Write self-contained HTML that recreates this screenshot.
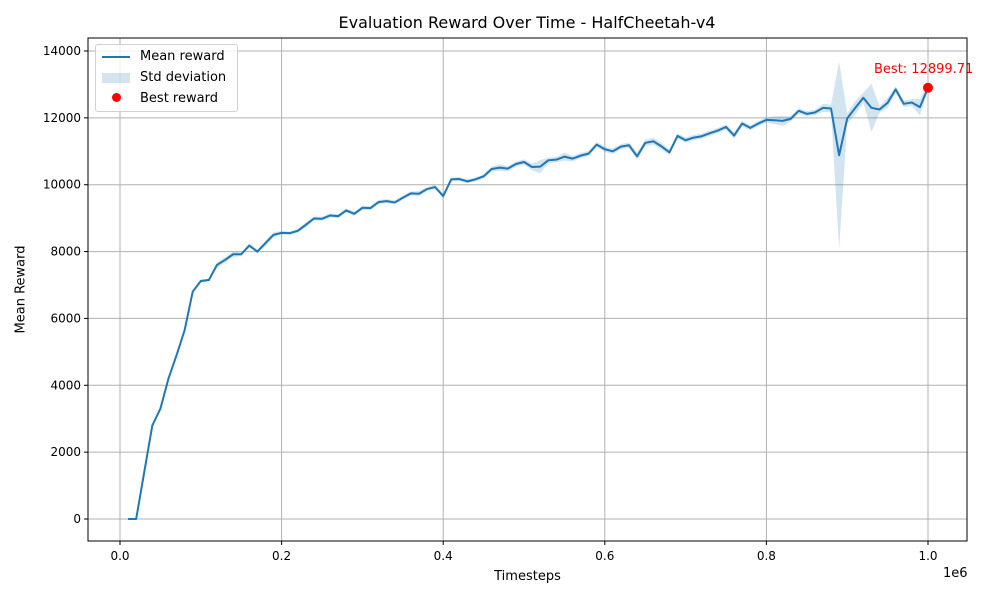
<!DOCTYPE html>
<html><head><meta charset="utf-8"><style>
body{margin:0;background:#fff;font-family:"Liberation Sans","DejaVu Sans",sans-serif}
svg text{font-family:"DejaVu Sans","Liberation Sans",sans-serif}
</style></head><body>
<svg id="c" width="1000" height="600" xmlns="http://www.w3.org/2000/svg">
<rect width="1000" height="600" fill="#fff"/>
<g id="grid"></g><g id="marks"></g><g id="axes"></g>
</svg>
<script>
const timesteps=[];for(let i=1;i<=100;i++)timesteps.push(i*10000);
const meanReward=[0,0,1400,2800,3300,4200,4900,5650,6800,7120,7150,7600,7750,7920,7920,8180,8000,8250,8500,8560,8550,8620,8800,8990,8980,9080,9060,9230,9130,9310,9300,9480,9510,9470,9610,9740,9730,9870,9930,9660,10160,10170,10100,10160,10250,10470,10510,10480,10620,10680,10530,10540,10730,10750,10840,10780,10870,10930,11200,11060,11000,11140,11180,10850,11250,11300,11150,10970,11460,11330,11410,11450,11540,11620,11730,11470,11830,11700,11830,11940,11930,11910,11970,12210,12120,12160,12300,12280,10880,11980,12300,12600,12300,12250,12450,12850,12420,12460,12320,12900];
const stdReward=[0,0,30,40,40,40,40,40,50,50,50,80,80,80,60,60,50,80,80,50,50,60,80,60,60,60,60,60,60,60,60,60,60,60,60,60,80,60,60,60,60,60,60,60,60,80,100,80,80,80,100,200,80,80,120,80,80,80,80,80,80,80,80,100,100,100,100,80,80,80,80,80,80,80,80,100,80,80,80,80,120,150,80,80,80,80,120,120,2800,150,200,150,720,100,150,100,100,100,250,80];
const xTicks=[0,0.2,0.4,0.6,0.8,1.0];
const yTicks=[0,2000,4000,6000,8000,10000,12000,14000];
const L=88,R=967,T=38,B=541;
const X=v=>120+v/1e6*808;
const Y=v=>519-v*468/14000;
const NS="http://www.w3.org/2000/svg";
function mk(tag,attrs,parent,txt){const e=document.createElementNS(NS,tag);for(const k in attrs)e.setAttribute(k,attrs[k]);if(txt!==undefined)e.textContent=txt;parent.appendChild(e);return e;}
const grid=document.getElementById('grid'),marks=document.getElementById('marks'),axes=document.getElementById('axes');
xTicks.forEach(t=>{const x=X(t*1e6);
const g=mk('line',{x1:x,x2:x,y1:T,y2:B,stroke:'#b0b0b0','stroke-width':1},grid);

mk('line',{x1:x,x2:x,y1:B,y2:B+4,stroke:'#000'},axes);
const l=mk('text',{x:x,y:B+19,'text-anchor':'middle','font-size':12},axes,t.toFixed(1));
});
yTicks.forEach(t=>{const y=Y(t);
const g=mk('line',{x1:L,x2:R,y1:y,y2:y,stroke:'#b0b0b0','stroke-width':1},grid);

mk('line',{x1:L-4,x2:L,y1:y,y2:y,stroke:'#000'},axes);
const l=mk('text',{x:L-7,y:y+4,'text-anchor':'end','font-size':12},axes,String(t));
});
let up=[],dn=[];
timesteps.forEach((t,i)=>{up.push(X(t)+','+Y(meanReward[i]+stdReward[i]));dn.unshift(X(t)+','+Y(meanReward[i]-stdReward[i]));});
const band=mk('polygon',{points:up.concat(dn).join(' '),fill:'#1f77b4','fill-opacity':0.2},marks);

const line=mk('polyline',{points:timesteps.map((t,i)=>X(t)+','+Y(meanReward[i])).join(' '),fill:'none',stroke:'#1f77b4','stroke-width':2,'stroke-linejoin':'round'},marks);

let bi=0;meanReward.forEach((v,i)=>{if(v>meanReward[bi])bi=i;});
const bx=X(timesteps[bi]),by=Y(meanReward[bi]);
const dot=mk('circle',{cx:bx,cy:by,r:5,fill:'red'},marks);

const bl=mk('text',{x:bx-54,y:by-15,'font-size':13,fill:'red'},marks,'Best: 12899.71');

const fr=mk('rect',{x:L,y:T,width:R-L,height:B-T,fill:'none',stroke:'#000','stroke-width':1},axes);

</script>
<div style="position:absolute;left:0;top:0;width:1000px;height:600px;pointer-events:none;font-family:'DejaVu Sans','Liberation Sans',sans-serif">
<div style="position:absolute;left:0;width:1054px;top:13px;text-align:center;font-size:16px">Evaluation Reward Over Time - HalfCheetah-v4</div>
<div style="position:absolute;left:0;width:1055px;top:569px;text-align:center;font-size:13px">Timesteps</div>
<div style="position:absolute;left:943px;top:566px;font-size:13px">1e6</div>
<div style="position:absolute;left:-24px;top:282px;width:90px;text-align:center;font-size:13px;transform:rotate(-90deg)">Mean Reward</div>
<div style="position:absolute;left:95px;top:44px;width:141px;height:66px;border:1px solid #d0d0d0;border-radius:3px;background:rgba(255,255,255,.8);font-size:13px">
<div style="position:absolute;left:6px;top:4px"><span style="display:inline-block;width:28px;height:2px;background:#1f77b4;vertical-align:middle;margin-right:10px"></span>Mean reward</div>
<div style="position:absolute;left:6px;top:25px"><span style="display:inline-block;width:28px;height:10px;background:rgba(31,119,180,.2);vertical-align:middle;margin-right:10px"></span>Std deviation</div>
<div style="position:absolute;left:6px;top:46px"><span style="display:inline-block;width:28px;text-align:center;vertical-align:middle;margin-right:10px"><span style="display:inline-block;width:9px;height:9px;border-radius:50%;background:red"></span></span>Best reward</div>
</div>
</div>
</body></html>
